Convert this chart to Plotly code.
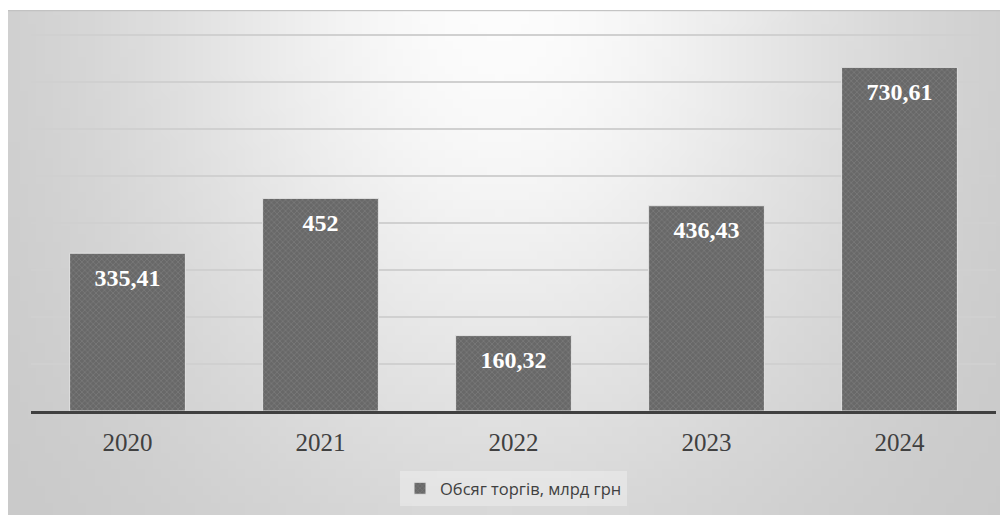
import base64, struct, zlib, math
import plotly.graph_objects as go

years = ["2020", "2021", "2022", "2023", "2024"]
volumes = [335.41, 452, 160.32, 436.43, 730.61]
labels = ["335,41", "452", "160,32", "436,43", "730,61"]
series_name = "Обсяг торгів, млрд грн"

OFF = 8  # page body margin
W, H = 1008 - OFF, 515 - OFF
L, R, T, B = 31 - OFF, 12, 22.3, 104
PW, PH = W - L - R, H - T - B


def px_x(px):
    return (px - OFF - L) / PW


def px_y(py):
    return (H - B - (py - OFF)) / PH


# background gradient image (chart area 7..1008 x 11..515 in screen px)
iw, ih = 120, 60
cx0, cy0 = 7, 11
cw, ch = 1008 - 7, 515 - 11
rows = []
for j in range(ih):
    row = bytearray([0])
    for i in range(iw):
        x = cx0 + (i + 0.5) / iw * cw
        y = cy0 + (j + 0.5) / ih * ch
        dx = x - 500
        dy = (y - 0) / 1.3
        d = math.sqrt(dx * dx + dy * dy)
        v = 252 - 54 * (1 - math.exp(-(d / 380) ** 2))
        row.append(max(0, min(255, int(round(v)))))
    rows.append(bytes(row))
raw = b"".join(rows)


def chunk(tag, data):
    c = struct.pack(">I", len(data)) + tag + data
    return c + struct.pack(">I", zlib.crc32(tag + data) & 0xFFFFFFFF)


png = b"\x89PNG\r\n\x1a\n" + chunk(b"IHDR", struct.pack(">IIBBBBB", iw, ih, 8, 0, 0, 0, 0)) \
    + chunk(b"IDAT", zlib.compress(raw, 9)) + chunk(b"IEND", b"")
img_src = "data:image/png;base64," + base64.b64encode(png).decode()

fig = go.Figure()
fig.add_trace(go.Bar(
    x=years, y=volumes, name=series_name, width=0.6,
    marker=dict(
        color="#6a6a6a",
        line=dict(color="#e2e2e2", width=1),
        pattern=dict(shape="x", fgcolor="#8c8c8c", bgcolor="#686868", size=4, solidity=0.35),
    ),
    hoverinfo="x+y",
))
fig.add_trace(go.Scatter(
    x=years, y=volumes, text=["<b>" + s + "</b>" for s in labels],
    mode="markers+text", textposition="bottom center",
    marker=dict(size=22, opacity=0),
    textfont=dict(family="Liberation Serif", size=24, color="#ffffff"),
    showlegend=False, hoverinfo="skip", cliponaxis=False,
))

fig.update_layout(
    width=W, height=H,
    margin=dict(l=L, r=R, t=T, b=B, autoexpand=False),
    paper_bgcolor="white",
    plot_bgcolor="rgba(0,0,0,0)",
    bargap=0.4,
    showlegend=True,
    legend=dict(
        orientation="h", x=0.5, xanchor="center", y=px_y(471), yanchor="top",
        bgcolor="rgba(255,255,255,0.3)", borderwidth=0,
        font=dict(family="Open Sans", size=16.5, color="#404040"),
        itemwidth=30,
    ),
    xaxis=dict(
        type="category",
        showgrid=False, showline=True, linecolor="#404040", linewidth=3,
        ticks="outside", ticklen=7, tickcolor="rgba(0,0,0,0)",
        tickfont=dict(family="Liberation Serif", size=25, color="#404040"),
        range=[-0.5, 4.5],
    ),
    yaxis=dict(
        range=[0, 810], tickvals=[100, 200, 300, 400, 500, 600, 700, 800],
        showgrid=True, gridcolor="#d0d0d0", gridwidth=2,
        showticklabels=False, zeroline=False, showline=False,
    ),
    images=[dict(
        source=img_src, xref="paper", yref="paper",
        x=px_x(7), y=px_y(11), sizex=(1008 - 7) / PW, sizey=(515 - 11) / PH,
        xanchor="left", yanchor="top", sizing="stretch", layer="below",
    )],
    shapes=[
        dict(type="line", xref="paper", yref="paper", x0=px_x(7), x1=px_x(1008), y0=px_y(11), y1=px_y(11),
             line=dict(color="#b8b8b8", width=1)),
        dict(type="line", xref="paper", yref="paper", x0=px_x(7), x1=px_x(7), y0=px_y(11), y1=px_y(515),
             line=dict(color="#b8b8b8", width=1)),
    ],
)

fig.write_html("out.html")
